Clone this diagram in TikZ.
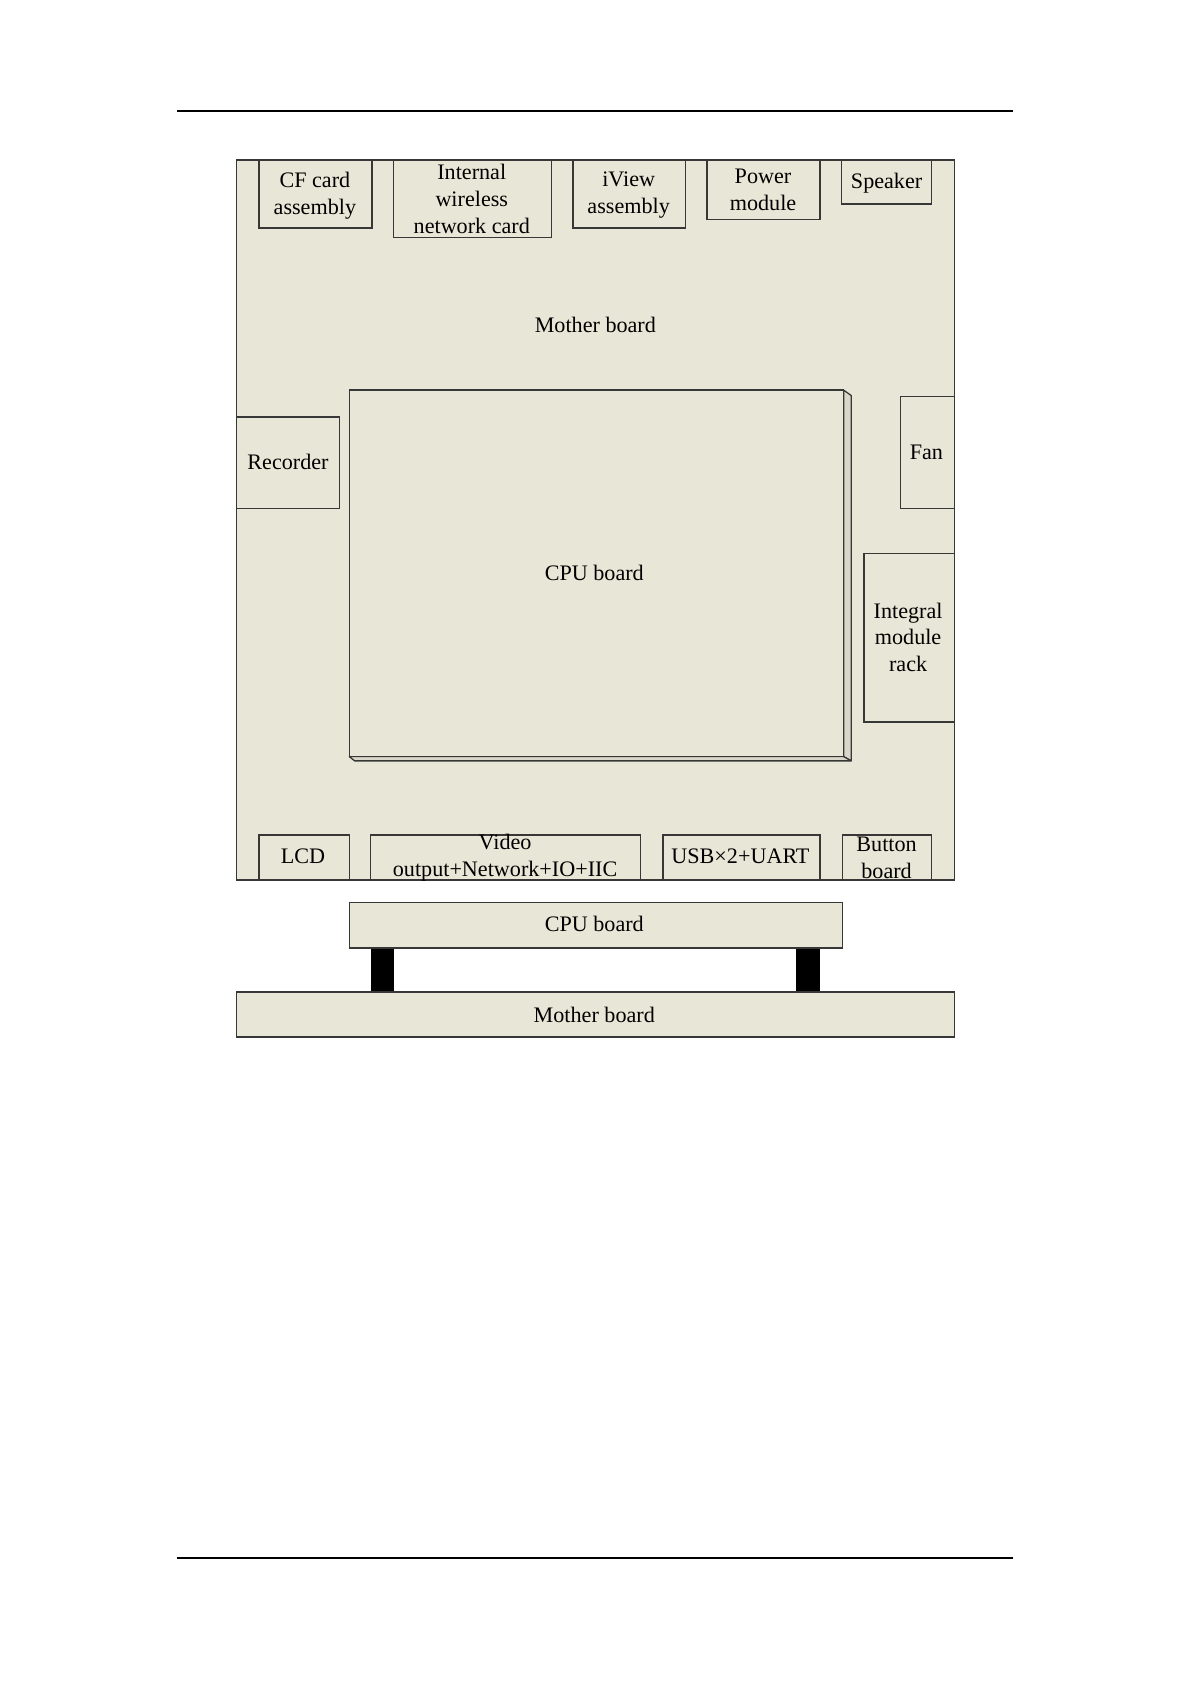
\documentclass[tikz,border=0pt]{standalone}
\usepackage{fontspec}
\setmainfont{Liberation Serif}
\usetikzlibrary{fit}
\definecolor{board}{RGB}{232,230,214}
\definecolor{edge}{RGB}{55,55,55}
\begin{document}
\begin{tikzpicture}[x=0.5pt,y=-0.5pt,
  part/.style={draw=edge,fill=board,line width=0.65pt,inner sep=0pt},
  lbl/.style={inner sep=0pt,align=center,font=\fontsize{10.3}{12.4}\selectfont},
  face/.style={draw=edge,fill=board!85!gray,line width=0.6pt,line join=round},
  rule/.style={line width=1pt,black},
  pillar/.style={fill=black,draw=none,inner sep=0pt}]
\useasboundingbox (0,0) rectangle (1108,1567);
\fill[white] (0,0) rectangle (1108,1567);
% page rules
\coordinate (rtl) at (165,103); \coordinate (rtr) at (943,103);
\draw[rule] (rtl) -- (rtr);
\coordinate (rbl) at (165,1450); \coordinate (rbr) at (943,1450);
\draw[rule,line width=0.8pt] (rbl) -- (rbr);
% mother board (top view)
\node[part,fit={(220,149)(888,819)}] (mb) {};
\node[lbl] (mblabel) at (554,302) {Mother board};
% top row
\node[part,fit={(241,149)(346,212)}] (cf) {};
\node[lbl] (cft) at (293,182) {CF card\\assembly};
\node[part,fit={(366,149)(513,221)}] (wifi) {};
\node[lbl] (wifit) at (439,185) {Internal\\wireless\\network card};
\node[part,fit={(533,149)(638,212)}] (iview) {};
\node[lbl] (iviewt) at (585,181.5) {iView\\assembly};
\node[part,fit={(658,149)(763,204)}] (power) {};
\node[lbl] (powert) at (710,176.5) {Power\\module};
\node[part,fit={(783,149)(867,190)}] (speaker) {};
\node[lbl] (speakert) at (825,170.5) {Speaker};
% left / right
\node[part,fit={(220,388)(316,473)}] (recorder) {};
\node[lbl] (recordert) at (268,430) {Recorder};
\node[part,fit={(838,369)(888,473)}] (fan) {};
\node[lbl] (fant) at (862,421) {Fan};
\node[part,fit={(804,515)(888,672)}] (rack) {};
\node[lbl] (rackt) at (845,593) {Integral\\module\\rack};
% CPU board with 3D edge
\draw[face] (785,363) -- (792,368) -- (792,708) -- (785,704) -- cycle;
\draw[face] (325,704) -- (785,704) -- (792,708) -- (330,708) -- cycle;
\node[part,fit={(325,363)(785,704)}] (cpu) {};
\node[lbl] (cpulabel) at (553,533) {CPU board};
% bottom row
\node[part,fit={(241,777)(325,819)}] (lcd) {};
\node[lbl] (lcdt) at (282,797) {LCD};
\node[part,fit={(345,777)(596,819)}] (video) {};
\node[lbl] (videot) at (470,798) {Video\\output+Network+IO+IIC};
\node[part,fit={(617,777)(763,819)}] (usb) {};
\node[lbl] (usbt) at (689,797) {USB×2+UART};
\node[part,fit={(784,777)(867,819)}] (button) {};
\node[lbl] (buttont) at (825,798) {Button\\board};
% side view
\node[pillar,fit={(345,880)(367,925)}] (p1) {};
\node[pillar,fit={(741,880)(763,925)}] (p2) {};
\node[part,fit={(325,840)(784,882)}] (cpuside) {};
\node[lbl] (cpusidet) at (553,860) {CPU board};
\node[part,fit={(220,923)(888,965)}] (mbside) {};
\node[lbl] (mbsidet) at (553,944) {Mother board};
\end{tikzpicture}
\end{document}
